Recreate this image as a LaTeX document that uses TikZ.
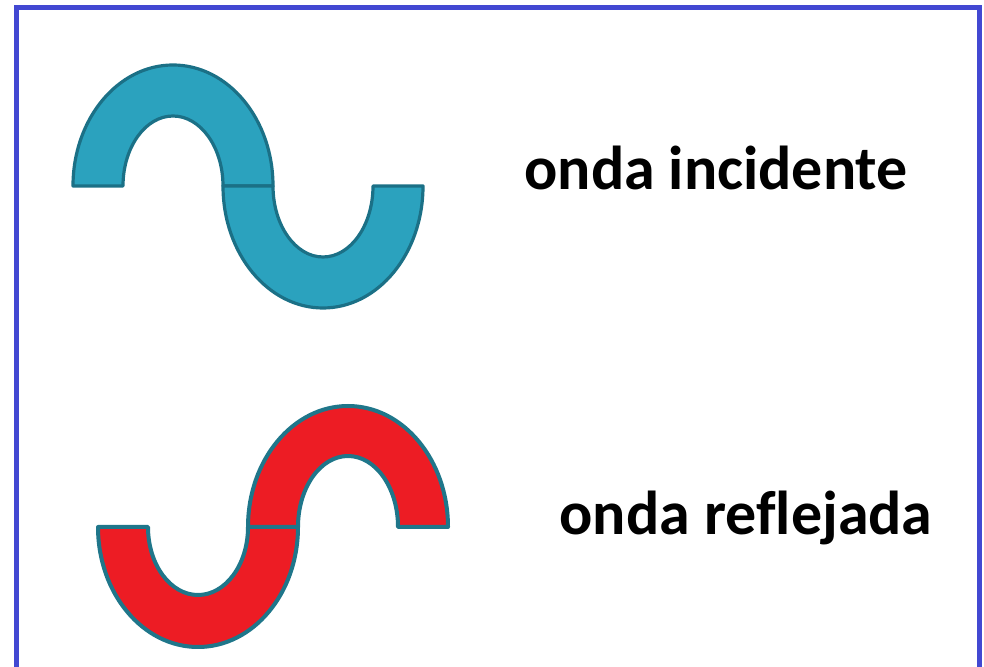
\documentclass[tikz,border=0pt]{standalone}
\usepackage{fontspec}
\setmainfont{Carlito}[Ligatures=NoCommon]
\definecolor{frameblue}{RGB}{66,72,210}
\definecolor{incfill}{RGB}{43,162,190}
\definecolor{incline}{RGB}{27,112,134}
\definecolor{reffill}{RGB}{237,28,36}
\definecolor{refline}{RGB}{31,118,138}
\begin{document}
\begin{tikzpicture}[x=1pt,y=1pt,
  incident/.style={fill=incfill,draw=incline,line width=3.2pt,line join=round},
  reflected/.style={fill=reffill,draw=refline,line width=4pt,line join=round},
  wavetext/.style={font=\fontsize{62}{74}\selectfont\bfseries,anchor=base}]
  \useasboundingbox (0,0) rectangle (984,666);
  \clip (0,0) rectangle (984,666);
  \draw[frameblue,line width=5pt] (16,-20) -- (16,658) -- (979.5,658) -- (979.5,-20);
  % incident wave: crest, then trough
  \draw[incident] (73,480) arc[start angle=180,end angle=0,x radius=100,y radius=121]
    -- (223,480) arc[start angle=0,end angle=180,x radius=50,y radius=70] -- cycle;
  \draw[incident] (223,480) arc[start angle=180,end angle=360,x radius=100,y radius=122]
    -- (373,480) arc[start angle=360,end angle=180,x radius=50,y radius=71] -- cycle;
  % reflected wave: trough, then crest
  \draw[reflected] (98,139) arc[start angle=180,end angle=360,x radius=100,y radius=120]
    -- (248,139) arc[start angle=360,end angle=180,x radius=50,y radius=68] -- cycle;
  \draw[reflected] (248,139) arc[start angle=180,end angle=0,x radius=100,y radius=121]
    -- (398,139) arc[start angle=0,end angle=180,x radius=50,y radius=71] -- cycle;
  \node[wavetext] (inc) at (716,476) {onda incidente};
  \node[wavetext] (ref) at (746,131) {onda reflejada};
\end{tikzpicture}
\end{document}
